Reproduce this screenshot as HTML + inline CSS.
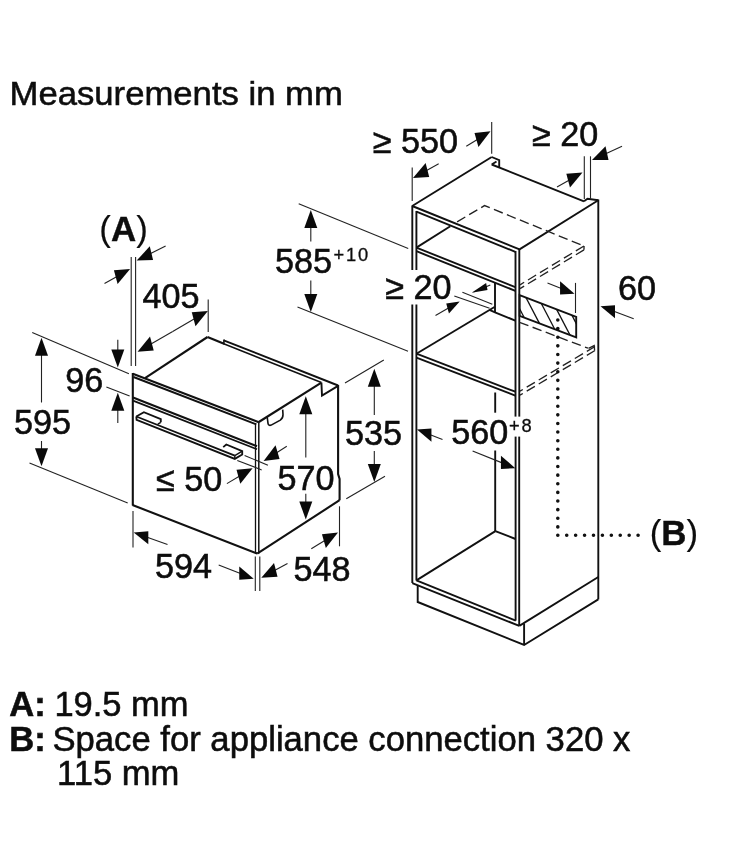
<!DOCTYPE html>
<html><head><meta charset="utf-8"><title>Measurements in mm</title>
<style>html,body{margin:0;padding:0;background:#fff}svg{display:block;will-change:transform}text{font-family:"Liberation Sans",Arial,Helvetica,sans-serif;fill:#0d0d0d;stroke:#0d0d0d;stroke-width:0.55px}</style>
</head><body>
<svg width="736" height="848" viewBox="0 0 736 848">
<text x="9.50" y="105.00" font-size="34" textLength="333.4" lengthAdjust="spacingAndGlyphs">Measurements in mm</text>
<text x="99.30" y="241.10" font-size="34.9" style="stroke-width:0.15px">(<tspan font-weight="bold" style="stroke-width:0.4px">A</tspan>)</text>
<text x="142.40" y="307.60" font-size="34.2" >405</text>
<text x="65.30" y="392.00" font-size="34.2" >96</text>
<text x="14.10" y="434.30" font-size="34.2" >595</text>
<text x="156.00" y="491.25" font-size="34.2" >≤ 50</text>
<text x="277.40" y="490.00" font-size="34.2" >570</text>
<text x="154.90" y="577.50" font-size="34.2" >594</text>
<text x="293.60" y="581.25" font-size="34.2" >548</text>
<text x="344.90" y="445.00" font-size="34.2" >535</text>
<text x="274.90" y="272.50" font-size="34.2" >585</text>
<text transform="translate(333.4,260.5) scale(1,1)" font-size="18.3" letter-spacing="1.9" style="stroke-width:0.3px">+10</text>
<text x="372.70" y="152.50" font-size="34.2" >≥ 550</text>
<text x="532.00" y="146.25" font-size="34.2" >≥ 20</text>
<text x="385.20" y="298.50" font-size="34.2" >≥ 20</text>
<text x="618.10" y="300.00" font-size="34.2" >60</text>
<text x="451.30" y="444.20" font-size="34.2" >560</text>
<text transform="translate(508.9,432.0) scale(1,1)" font-size="18.3" letter-spacing="1.9" style="stroke-width:0.3px">+8</text>
<text x="649.70" y="545.00" font-size="34.9" style="stroke-width:0.15px">(<tspan font-weight="bold" style="stroke-width:0.4px">B</tspan>)</text>
<text x="9.30" y="715.80" font-size="34.6" font-weight="bold" >A:</text>
<text x="54.40" y="715.80" font-size="34.5" >19.5 mm</text>
<text x="9.30" y="750.70" font-size="34.6" font-weight="bold" >B:</text>
<text x="52.40" y="750.70" font-size="34.66" >Space for appliance connection 320 x</text>
<text x="57.00" y="785.20" font-size="34.6" >115 mm</text>
<line x1="132.80" y1="373.00" x2="132.80" y2="505.50" stroke="#111" stroke-width="2.1" />
<line x1="132.80" y1="373.70" x2="258.80" y2="422.20" stroke="#111" stroke-width="2.1" />
<line x1="133.50" y1="377.00" x2="256.30" y2="424.40" stroke="#111" stroke-width="1.9" />
<line x1="133.00" y1="397.60" x2="257.00" y2="446.20" stroke="#111" stroke-width="2.2" />
<line x1="133.00" y1="400.60" x2="257.00" y2="449.20" stroke="#111" stroke-width="1.7" />
<line x1="132.50" y1="505.00" x2="257.20" y2="553.60" stroke="#111" stroke-width="2.1" />
<line x1="255.50" y1="423.00" x2="255.50" y2="553.00" stroke="#111" stroke-width="1.3" />
<line x1="258.80" y1="422.00" x2="258.80" y2="553.50" stroke="#111" stroke-width="1.5" />
<line x1="145.00" y1="378.20" x2="207.50" y2="337.00" stroke="#111" stroke-width="2.1" />
<line x1="207.50" y1="337.00" x2="224.00" y2="343.70" stroke="#111" stroke-width="2.1" />
<line x1="223.70" y1="340.30" x2="338.10" y2="385.50" stroke="#111" stroke-width="1.9" />
<line x1="223.70" y1="343.80" x2="321.40" y2="382.60" stroke="#111" stroke-width="1.6" />
<line x1="223.90" y1="339.60" x2="223.90" y2="344.40" stroke="#111" stroke-width="1.5" />
<line x1="258.80" y1="422.00" x2="321.40" y2="382.60" stroke="#111" stroke-width="2.1" />
<polyline points="321.40,382.60 322.00,395.60 338.10,385.90" fill="none" stroke="#111" stroke-width="1.9" stroke-linejoin="miter" />
<polyline points="338.10,385.00 338.10,474.00 339.60,479.00 339.60,500.20" fill="none" stroke="#111" stroke-width="2.1" stroke-linejoin="miter" />
<line x1="257.20" y1="553.60" x2="339.60" y2="500.20" stroke="#111" stroke-width="2.1" />
<polyline points="136.30,416.50 143.90,412.20 160.80,419.20 160.80,422.30" fill="none" stroke="#111" stroke-width="1.85" stroke-linejoin="miter" />
<polyline points="136.30,416.30 136.60,419.80 234.80,458.90 242.20,454.50 242.20,451.20 226.30,444.50 223.20,447.10" fill="none" stroke="#111" stroke-width="1.85" stroke-linejoin="miter" />
<line x1="136.30" y1="416.50" x2="234.80" y2="455.60" stroke="#111" stroke-width="1.85" />
<line x1="234.80" y1="455.60" x2="234.80" y2="458.90" stroke="#111" stroke-width="1.4" />
<line x1="234.80" y1="455.60" x2="242.20" y2="451.20" stroke="#111" stroke-width="1.4" />
<line x1="160.80" y1="422.30" x2="157.80" y2="424.20" stroke="#111" stroke-width="1.4" />
<path d="M267.2,417 L268,423.3 Q268.5,426 271.2,425.1 L280.3,420.1 Q283.1,418.2 283,414.5 L282.7,409.6" fill="none" stroke="#111" stroke-width="1.6"/>
<line x1="131.20" y1="257.00" x2="131.20" y2="366.00" stroke="#222" stroke-width="1.1" />
<line x1="135.60" y1="257.00" x2="135.60" y2="366.00" stroke="#222" stroke-width="1.1" />
<line x1="165.60" y1="246.00" x2="149.64" y2="254.06" stroke="#222" stroke-width="1.1" />
<polygon points="136.70,260.60 153.07,260.06 149.78,246.26" fill="#0a0a0a" stroke="none" stroke-width="0"/>
<line x1="104.50" y1="283.60" x2="117.50" y2="276.18" stroke="#222" stroke-width="1.1" />
<polygon points="130.10,269.00 117.60,284.07 113.94,270.27" fill="#0a0a0a" stroke="none" stroke-width="0"/>
<line x1="208.20" y1="299.50" x2="208.20" y2="332.00" stroke="#222" stroke-width="1.1" />
<line x1="172.70" y1="331.40" x2="150.14" y2="344.51" stroke="#222" stroke-width="1.1" />
<polygon points="137.60,351.80 153.73,350.41 150.01,336.61" fill="#0a0a0a" stroke="none" stroke-width="0"/>
<line x1="172.70" y1="331.40" x2="195.35" y2="318.27" stroke="#222" stroke-width="1.1" />
<polygon points="207.90,311.00 195.48,326.17 191.77,312.37" fill="#0a0a0a" stroke="none" stroke-width="0"/>
<line x1="32.20" y1="332.40" x2="128.90" y2="373.70" stroke="#222" stroke-width="1.1" />
<line x1="106.40" y1="387.00" x2="129.60" y2="396.00" stroke="#222" stroke-width="1.1" />
<line x1="117.80" y1="339.80" x2="117.80" y2="351.50" stroke="#222" stroke-width="1.1" />
<polygon points="117.80,367.50 124.30,349.50 111.30,349.50" fill="#0a0a0a" stroke="none" stroke-width="0"/>
<line x1="117.80" y1="423.00" x2="117.80" y2="408.80" stroke="#222" stroke-width="1.1" />
<polygon points="117.80,392.80 124.30,410.80 111.30,410.80" fill="#0a0a0a" stroke="none" stroke-width="0"/>
<line x1="41.50" y1="402.50" x2="41.50" y2="353.80" stroke="#222" stroke-width="1.1" />
<polygon points="41.50,337.80 48.00,355.80 35.00,355.80" fill="#0a0a0a" stroke="none" stroke-width="0"/>
<line x1="41.50" y1="441.00" x2="41.50" y2="450.30" stroke="#222" stroke-width="1.1" />
<polygon points="41.50,466.30 48.00,448.30 35.00,448.30" fill="#0a0a0a" stroke="none" stroke-width="0"/>
<line x1="29.50" y1="463.00" x2="127.70" y2="503.00" stroke="#222" stroke-width="1.1" />
<line x1="133.00" y1="511.00" x2="133.00" y2="547.50" stroke="#222" stroke-width="1.1" />
<line x1="167.50" y1="544.50" x2="146.42" y2="537.02" stroke="#222" stroke-width="1.1" />
<polygon points="133.70,532.50 148.31,544.21 148.31,531.16" fill="#0a0a0a" stroke="none" stroke-width="0"/>
<line x1="218.70" y1="565.00" x2="241.13" y2="573.78" stroke="#222" stroke-width="1.1" />
<polygon points="253.70,578.70 239.27,579.65 239.27,566.45" fill="#0a0a0a" stroke="none" stroke-width="0"/>
<line x1="255.30" y1="556.50" x2="255.30" y2="591.00" stroke="#222" stroke-width="1.1" />
<line x1="259.80" y1="556.50" x2="259.80" y2="591.00" stroke="#222" stroke-width="1.1" />
<line x1="287.50" y1="563.50" x2="274.03" y2="570.85" stroke="#222" stroke-width="1.1" />
<polygon points="261.30,577.80 277.54,576.80 274.02,563.00" fill="#0a0a0a" stroke="none" stroke-width="0"/>
<line x1="311.30" y1="548.70" x2="325.60" y2="540.02" stroke="#222" stroke-width="1.1" />
<polygon points="338.00,532.50 325.82,547.96 321.96,534.16" fill="#0a0a0a" stroke="none" stroke-width="0"/>
<line x1="339.50" y1="506.30" x2="339.50" y2="546.30" stroke="#222" stroke-width="1.1" />
<line x1="305.80" y1="457.50" x2="305.80" y2="412.30" stroke="#222" stroke-width="1.1" />
<polygon points="305.80,396.30 312.30,414.30 299.30,414.30" fill="#0a0a0a" stroke="none" stroke-width="0"/>
<line x1="305.80" y1="493.70" x2="305.80" y2="503.50" stroke="#222" stroke-width="1.1" />
<polygon points="305.80,519.50 312.30,501.50 299.30,501.50" fill="#0a0a0a" stroke="none" stroke-width="0"/>
<line x1="374.30" y1="415.00" x2="374.30" y2="384.80" stroke="#222" stroke-width="1.1" />
<polygon points="374.30,368.80 380.80,386.80 367.80,386.80" fill="#0a0a0a" stroke="none" stroke-width="0"/>
<line x1="374.30" y1="451.00" x2="374.30" y2="466.00" stroke="#222" stroke-width="1.1" />
<polygon points="374.30,482.00 380.80,464.00 367.80,464.00" fill="#0a0a0a" stroke="none" stroke-width="0"/>
<line x1="345.00" y1="383.00" x2="383.80" y2="360.00" stroke="#222" stroke-width="1.1" />
<line x1="346.30" y1="498.70" x2="385.00" y2="476.30" stroke="#222" stroke-width="1.1" />
<line x1="244.60" y1="455.50" x2="267.90" y2="465.20" stroke="#222" stroke-width="1.1" />
<line x1="237.30" y1="460.40" x2="261.70" y2="469.90" stroke="#222" stroke-width="1.1" />
<line x1="286.80" y1="446.30" x2="275.85" y2="453.24" stroke="#222" stroke-width="1.1" />
<polygon points="263.60,461.00 279.54,459.07 275.54,445.27" fill="#0a0a0a" stroke="none" stroke-width="0"/>
<line x1="226.90" y1="483.60" x2="240.14" y2="475.72" stroke="#222" stroke-width="1.1" />
<polygon points="252.60,468.30 240.32,483.64 236.52,469.84" fill="#0a0a0a" stroke="none" stroke-width="0"/>
<line x1="298.70" y1="203.70" x2="408.20" y2="248.40" stroke="#222" stroke-width="1.1" />
<line x1="297.50" y1="307.00" x2="408.00" y2="351.20" stroke="#222" stroke-width="1.1" />
<line x1="310.80" y1="241.40" x2="310.80" y2="226.00" stroke="#222" stroke-width="1.1" />
<polygon points="310.80,210.00 317.30,228.00 304.30,228.00" fill="#0a0a0a" stroke="none" stroke-width="0"/>
<line x1="310.80" y1="280.50" x2="310.80" y2="296.00" stroke="#222" stroke-width="1.1" />
<polygon points="310.80,312.00 317.30,294.00 304.30,294.00" fill="#0a0a0a" stroke="none" stroke-width="0"/>
<line x1="412.30" y1="205.50" x2="412.30" y2="270.00" stroke="#111" stroke-width="1.9" />
<line x1="412.30" y1="304.50" x2="412.30" y2="583.00" stroke="#111" stroke-width="1.9" />
<line x1="416.40" y1="211.00" x2="416.40" y2="270.00" stroke="#111" stroke-width="1.9" />
<line x1="416.40" y1="304.50" x2="416.40" y2="580.40" stroke="#111" stroke-width="1.9" />
<line x1="515.50" y1="251.00" x2="515.50" y2="416.60" stroke="#111" stroke-width="1.9" />
<line x1="515.60" y1="436.60" x2="515.60" y2="620.60" stroke="#111" stroke-width="1.9" />
<line x1="519.30" y1="249.00" x2="519.30" y2="416.60" stroke="#111" stroke-width="1.9" />
<line x1="519.20" y1="436.60" x2="519.20" y2="625.50" stroke="#111" stroke-width="1.9" />
<line x1="412.20" y1="206.00" x2="519.50" y2="249.40" stroke="#111" stroke-width="1.9" />
<line x1="416.40" y1="211.70" x2="515.30" y2="251.80" stroke="#111" stroke-width="1.9" />
<line x1="412.20" y1="206.00" x2="491.70" y2="157.00" stroke="#111" stroke-width="1.9" />
<polyline points="491.70,157.00 499.20,160.20 499.20,167.30" fill="none" stroke="#111" stroke-width="1.9" stroke-linejoin="miter" />
<line x1="491.70" y1="164.50" x2="496.50" y2="161.50" stroke="#111" stroke-width="1.9" />
<line x1="491.70" y1="164.50" x2="584.00" y2="201.30" stroke="#111" stroke-width="1.9" />
<polyline points="584.00,201.30 587.50,198.80 598.30,200.20" fill="none" stroke="#111" stroke-width="1.9" stroke-linejoin="miter" />
<line x1="519.50" y1="249.40" x2="598.30" y2="200.20" stroke="#111" stroke-width="1.9" />
<line x1="598.30" y1="199.50" x2="598.30" y2="599.40" stroke="#111" stroke-width="1.9" />
<line x1="416.40" y1="247.60" x2="515.30" y2="287.20" stroke="#111" stroke-width="1.9" />
<line x1="416.40" y1="251.20" x2="515.30" y2="290.80" stroke="#111" stroke-width="1.9" />
<line x1="416.40" y1="247.60" x2="450.30" y2="226.20" stroke="#111" stroke-width="1.9" />
<line x1="416.40" y1="353.70" x2="515.30" y2="391.70" stroke="#111" stroke-width="1.9" />
<line x1="416.40" y1="357.60" x2="515.30" y2="395.60" stroke="#111" stroke-width="1.9" />
<line x1="416.40" y1="353.70" x2="494.50" y2="307.00" stroke="#111" stroke-width="1.9" />
<line x1="495.00" y1="282.40" x2="495.00" y2="312.30" stroke="#111" stroke-width="1.9" />
<polyline points="489.50,309.80 495.00,312.30 515.30,320.60" fill="none" stroke="#111" stroke-width="1.9" stroke-linejoin="miter" />
<line x1="495.20" y1="392.50" x2="495.20" y2="412.70" stroke="#111" stroke-width="1.9" />
<line x1="495.20" y1="450.50" x2="495.20" y2="531.30" stroke="#111" stroke-width="1.9" />
<line x1="416.40" y1="580.40" x2="495.40" y2="531.10" stroke="#111" stroke-width="1.9" />
<line x1="495.40" y1="531.10" x2="515.60" y2="539.00" stroke="#111" stroke-width="1.9" />
<line x1="412.30" y1="583.20" x2="519.30" y2="625.90" stroke="#111" stroke-width="1.9" />
<line x1="416.40" y1="580.40" x2="515.80" y2="620.60" stroke="#111" stroke-width="1.9" />
<line x1="519.30" y1="625.90" x2="598.30" y2="577.00" stroke="#111" stroke-width="1.9" />
<polyline points="417.70,585.00 417.70,602.00 524.10,645.00 598.30,599.40" fill="none" stroke="#111" stroke-width="1.9" stroke-linejoin="miter" />
<line x1="524.10" y1="623.50" x2="524.10" y2="645.00" stroke="#111" stroke-width="1.9" />
<polyline points="457.10,221.80 484.50,205.60 584.00,246.00" fill="none" stroke="#222" stroke-width="1.35" stroke-linejoin="miter" stroke-dasharray="9.5 4.5"/>
<line x1="584.00" y1="246.00" x2="520.00" y2="284.80" stroke="#222" stroke-width="1.35" stroke-dasharray="9.5 4.5"/>
<line x1="584.00" y1="249.80" x2="520.00" y2="288.60" stroke="#222" stroke-width="1.35" stroke-dasharray="9.5 4.5"/>
<line x1="584.00" y1="246.00" x2="584.00" y2="249.80" stroke="#222" stroke-width="1.35" />
<line x1="519.50" y1="322.30" x2="588.00" y2="348.20" stroke="#222" stroke-width="1.35" stroke-dasharray="9.5 4.5"/>
<polyline points="588.50,348.30 594.20,345.60 594.60,350.20" fill="none" stroke="#222" stroke-width="1.35" stroke-linejoin="miter" />
<line x1="595.00" y1="346.50" x2="520.00" y2="391.20" stroke="#222" stroke-width="1.35" stroke-dasharray="9.5 4.5"/>
<line x1="595.00" y1="350.50" x2="520.00" y2="395.20" stroke="#222" stroke-width="1.35" stroke-dasharray="9.5 4.5"/>
<clipPath id="hc"><polygon points="519.6,295.2 576.2,316.9 576.2,337.4 519.6,315.9"/></clipPath>
<g clip-path="url(#hc)">
<line x1="508.10" y1="286.79" x2="526.10" y2="321.29" stroke="#111" stroke-width="1.3" />
<line x1="523.40" y1="292.65" x2="541.40" y2="327.15" stroke="#111" stroke-width="1.3" />
<line x1="538.70" y1="298.52" x2="556.70" y2="333.02" stroke="#111" stroke-width="1.3" />
<line x1="554.00" y1="304.39" x2="572.00" y2="338.89" stroke="#111" stroke-width="1.3" />
<line x1="569.30" y1="310.25" x2="587.30" y2="344.75" stroke="#111" stroke-width="1.3" />
<line x1="584.60" y1="316.12" x2="602.60" y2="350.62" stroke="#111" stroke-width="1.3" />
</g>
<polygon points="519.60,295.20 576.20,316.90 576.20,337.40 519.60,315.90" fill="none" stroke="#111" stroke-width="1.9"/>
<path d="M557.8,320 V535.3" stroke="#111" stroke-width="3.6" stroke-linecap="round" stroke-dasharray="0.01 8.61" fill="none"/>
<path d="M557.8,535.3 H640" stroke="#111" stroke-width="3.6" stroke-linecap="round" stroke-dasharray="0.01 8.91" fill="none"/>
<line x1="412.20" y1="167.50" x2="412.20" y2="201.00" stroke="#222" stroke-width="1.1" />
<line x1="491.70" y1="122.00" x2="491.70" y2="153.70" stroke="#222" stroke-width="1.1" />
<line x1="438.70" y1="163.70" x2="425.67" y2="170.95" stroke="#222" stroke-width="1.1" />
<polygon points="413.00,178.00 429.21,176.88 425.63,163.08" fill="#0a0a0a" stroke="none" stroke-width="0"/>
<line x1="466.30" y1="146.30" x2="478.18" y2="138.94" stroke="#222" stroke-width="1.1" />
<polygon points="490.50,131.30 478.44,146.89 474.51,133.09" fill="#0a0a0a" stroke="none" stroke-width="0"/>
<line x1="584.30" y1="156.30" x2="584.30" y2="199.00" stroke="#222" stroke-width="1.1" />
<line x1="590.50" y1="156.30" x2="590.50" y2="198.80" stroke="#222" stroke-width="1.1" />
<line x1="622.00" y1="146.30" x2="605.19" y2="153.98" stroke="#222" stroke-width="1.1" />
<polygon points="592.00,160.00 608.51,160.05 605.51,146.25" fill="#0a0a0a" stroke="none" stroke-width="0"/>
<line x1="557.00" y1="187.00" x2="569.90" y2="179.67" stroke="#222" stroke-width="1.1" />
<polygon points="582.50,172.50 569.98,187.56 566.33,173.76" fill="#0a0a0a" stroke="none" stroke-width="0"/>
<line x1="462.40" y1="292.30" x2="492.30" y2="304.20" stroke="#222" stroke-width="1.1" />
<line x1="454.30" y1="296.00" x2="489.60" y2="308.20" stroke="#222" stroke-width="1.1" />
<line x1="490.30" y1="285.00" x2="484.98" y2="287.22" stroke="#222" stroke-width="1.1" />
<polygon points="471.60,292.80 487.53,289.95 486.13,282.95" fill="#0a0a0a" stroke="none" stroke-width="0"/>
<line x1="435.50" y1="315.50" x2="449.33" y2="307.44" stroke="#222" stroke-width="1.1" />
<polygon points="459.70,301.40 448.95,313.45 446.25,303.45" fill="#0a0a0a" stroke="none" stroke-width="0"/>
<line x1="575.50" y1="282.90" x2="575.50" y2="313.00" stroke="#222" stroke-width="1.1" />
<line x1="547.50" y1="283.00" x2="561.95" y2="288.73" stroke="#222" stroke-width="1.1" />
<polygon points="574.50,293.70 560.09,294.60 560.09,281.37" fill="#0a0a0a" stroke="none" stroke-width="0"/>
<line x1="633.70" y1="318.70" x2="613.15" y2="311.02" stroke="#222" stroke-width="1.1" />
<polygon points="600.50,306.30 615.02,318.29 615.02,305.16" fill="#0a0a0a" stroke="none" stroke-width="0"/>
<line x1="442.50" y1="439.50" x2="429.57" y2="434.43" stroke="#222" stroke-width="1.1" />
<polygon points="417.00,429.50 431.43,441.76 431.43,428.55" fill="#0a0a0a" stroke="none" stroke-width="0"/>
<line x1="472.60" y1="450.90" x2="502.79" y2="463.13" stroke="#222" stroke-width="1.1" />
<polygon points="515.30,468.20 500.93,469.02 500.93,455.74" fill="#0a0a0a" stroke="none" stroke-width="0"/>
</svg>
</body></html>
